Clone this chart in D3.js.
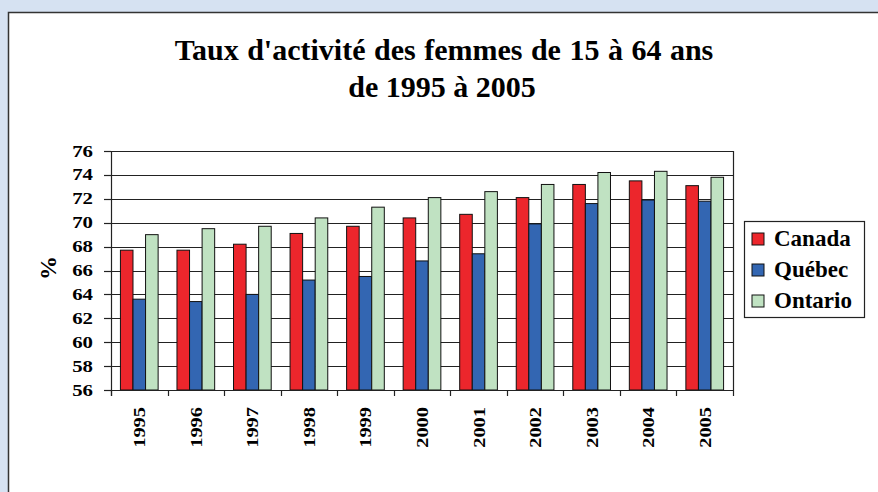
<!DOCTYPE html>
<html>
<head>
<meta charset="utf-8">
<script src="https://cdn.jsdelivr.net/npm/d3@7"></script>
<style>
  body { margin:0; background:#d6e2f2; }
  svg { display:block; }
</style>
</head>
<body>
<div id="chart"></div>
<script>
// data
let years = ["1995","1996","1997","1998","1999","2000","2001","2002","2003","2004","2005"];
let series = ["Canada","Québec","Ontario"];
let canada  = [67.7, 67.7, 68.2, 69.1, 69.7, 70.4, 70.7, 72.1, 73.2, 73.5, 73.1];
let quebec  = [63.6, 63.4, 64.0, 65.2, 65.5, 66.8, 67.4, 69.9, 71.6, 71.9, 71.8];
let ontario = [69.0, 69.5, 69.7, 70.4, 71.3, 72.1, 72.6, 73.2, 74.2, 74.3, 73.8];
let yTicks = [56,58,60,62,64,66,68,70,72,74,76];

let colors = ["#ec262c","#3366b2","#c0e2c2"];
let serif = "Liberation Serif";

let width=878, height=492;
let pLeft=111, pRight=733, pTop=151, pBottom=390;

let svg = d3.select("#chart").append("svg").attr("width",width).attr("height",height);

function label(sel){
  return sel.attr("font-family",serif).attr("font-weight","bold").attr("fill","#000");
}

// white panel
svg.append("rect").attr("x",8.5).attr("y",12.5).attr("width",900).attr("height",500)
  .attr("fill","#fff").attr("stroke","#333").attr("stroke-width",1.5);

// title
label(svg.append("text")).attr("x",444).attr("y",60).attr("text-anchor","middle")
  .attr("font-size",30).attr("word-spacing",1)
  .text("Taux d'activité des femmes de 15 à 64 ans");
label(svg.append("text")).attr("x",442).attr("y",97).attr("text-anchor","middle")
  .attr("font-size",30)
  .text("de 1995 à 2005");

let table = years.map((yr,i)=>({year:yr, values:[canada[i],quebec[i],ontario[i]]}));

let x = d3.scaleBand().domain(years).range([pLeft,pRight]).padding(0);
let xSub = d3.scaleBand().domain(series).range([0,x.bandwidth()]).paddingInner(0).paddingOuter(0.75);
let y = d3.scaleLinear().domain([56,76]).range([pBottom,pTop]);

// gridlines
svg.append("g").selectAll("line").data(yTicks).join("line")
  .attr("x1",pLeft).attr("x2",pRight)
  .attr("y1",d=>Math.round(y(d))+0.5).attr("y2",d=>Math.round(y(d))+0.5)
  .attr("stroke","#222").attr("stroke-width",1.2);

// right border of plot
svg.append("line").attr("x1",pRight+0.5).attr("x2",pRight+0.5).attr("y1",pTop).attr("y2",pBottom)
  .attr("stroke","#222").attr("stroke-width",1.2);

// bars
let groups = svg.append("g").selectAll("g").data(table).join("g")
  .attr("transform",d=>"translate("+x(d.year)+",0)");
groups.selectAll("rect").data(d=>d.values.map((v,j)=>({s:series[j],v:v,c:colors[j]}))).join("rect")
  .attr("x",d=>xSub(d.s)).attr("width",xSub.bandwidth())
  .attr("y",d=>y(d.v)).attr("height",d=>y(56)-y(d.v))
  .attr("fill",d=>d.c).attr("stroke","#111").attr("stroke-width",1);

// y axis
let yAxis = svg.append("g");
yAxis.append("line").attr("x1",pLeft+0.5).attr("x2",pLeft+0.5).attr("y1",pTop).attr("y2",pBottom+6)
  .attr("stroke","#222").attr("stroke-width",1.2);
yAxis.selectAll("line.tick").data(yTicks).join("line").attr("class","tick")
  .attr("x1",pLeft-7).attr("x2",pLeft)
  .attr("y1",d=>Math.round(y(d))+0.5).attr("y2",d=>Math.round(y(d))+0.5)
  .attr("stroke","#222").attr("stroke-width",1.2);
label(yAxis.selectAll("text").data(yTicks).join("text"))
  .attr("transform",d=>"translate(93,"+(y(d)+5.5)+") scale(1.3,1)")
  .attr("text-anchor","end").attr("font-size",16)
  .text(d=>d);

// y title
label(svg.append("text")).attr("transform","translate(56,268) rotate(-90)").attr("text-anchor","middle")
  .attr("font-size",24).text("%");

// x axis
let xAxis = svg.append("g");
xAxis.append("line").attr("x1",pLeft).attr("x2",pRight).attr("y1",pBottom+0.5).attr("y2",pBottom+0.5)
  .attr("stroke","#222").attr("stroke-width",1.2);
xAxis.selectAll("line.tick").data(years.map(d=>x(d)).concat([pRight])).join("line").attr("class","tick")
  .attr("x1",d=>Math.round(d)+0.5).attr("x2",d=>Math.round(d)+0.5)
  .attr("y1",pBottom).attr("y2",pBottom+6)
  .attr("stroke","#222").attr("stroke-width",1.2);
label(xAxis.selectAll("text").data(years).join("text"))
  .attr("transform",d=>"translate("+(x(d)+x.bandwidth()/2+6)+",407) rotate(-90) scale(1.2,1)")
  .attr("text-anchor","end").attr("font-size",17)
  .text(d=>d);

// legend
let legend = svg.append("g");
legend.append("rect").attr("x",744.5).attr("y",221.5).attr("width",120).attr("height",96)
  .attr("fill","#fff").attr("stroke","#222").attr("stroke-width",1.2);
let items = legend.selectAll("g").data(series).join("g")
  .attr("transform",(d,i)=>"translate(752,"+(233+i*31)+")");
items.append("rect").attr("width",12).attr("height",12)
  .attr("fill",(d,i)=>colors[i]).attr("stroke","#111").attr("stroke-width",1);
label(items.append("text")).attr("x",22).attr("y",13).attr("font-size",23)
  .text(d=>d);
</script>
</body>
</html>
